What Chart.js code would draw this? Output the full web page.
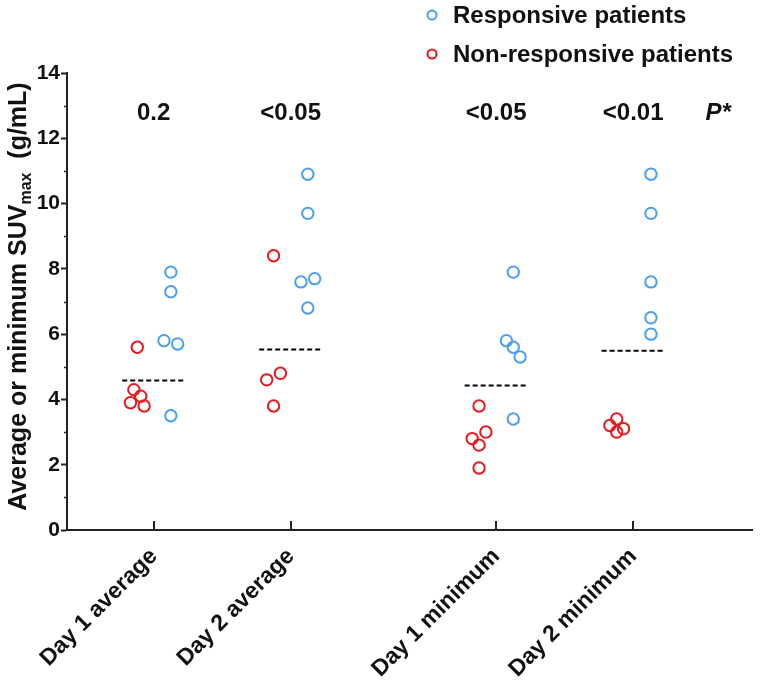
<!DOCTYPE html>
<html>
<head>
<meta charset="utf-8">
<script src="https://cdn.jsdelivr.net/npm/chart.js@4"></script>
<style>
  html, body { margin: 0; padding: 0; background: #fff; }
  #wrap { width: 760px; height: 686px; }
</style>
</head>
<body>
<div id="wrap"><canvas id="chart" width="760" height="686"></canvas></div>
<script>
// ── Data ──────────────────────────────────────────────────────────────────────

const categories = ['Day 1 average', 'Day 2 average', 'Day 1 minimum', 'Day 2 minimum'];
const seriesLabels = ['Responsive patients', 'Non-responsive patients'];

const responsive = [
  [7.9, 7.3, 5.8, 5.7, 3.5],
  [10.9, 9.7, 7.7, 7.6, 6.8],
  [7.9, 5.8, 5.6, 5.3, 3.4],
  [10.9, 9.7, 7.6, 6.5, 6.0],
];
const nonResponsive = [
  [5.6, 4.3, 4.1, 3.9, 3.8],
  [8.4, 4.8, 4.6, 3.8],
  [3.8, 3.0, 2.8, 2.6, 1.9],
  [3.4, 3.2, 3.1, 3.0],
];
const medians = [4.58, 5.53, 4.43, 5.49];
const pLabels = ['0.2', '<0.05', '<0.05', '<0.01'];
const yTicks = [0, 2, 4, 6, 8, 10, 12, 14];

// ── Layout (category slots on the x axis, scatter jitter) ─────────────────────

const CAT_X = [1, 2, 3.5, 4.5];
const responsiveJitter = [
  [0.125, 0.125, 0.075, 0.175, 0.125],
  [0.125, 0.125, 0.175, 0.075, 0.125],
  [0.125, 0.075, 0.125, 0.175, 0.125],
  [0.13, 0.13, 0.13, 0.13, 0.13],
];
const nonJitter = [
  [-0.12, -0.145, -0.095, -0.17, -0.07],
  [-0.125, -0.075, -0.175, -0.125],
  [-0.125, -0.075, -0.175, -0.125, -0.125],
  [-0.12, -0.17, -0.07, -0.12],
];
const MEDIAN_HALF = 0.23;
const P_ROW_Y = 12.75;
const P_HEADER_X = 5.12;

const BLUE = '#4b9ff2';
const RED = '#e8181c';
const INK = '#111';
const FONT = "'Liberation Sans', Arial, sans-serif";

// ── Build datasets ────────────────────────────────────────────────────────────

function toPoints(groups, jitter) {
  const pts = [];
  groups.forEach((vals, i) => {
    vals.forEach((v, j) => pts.push({ x: CAT_X[i] + jitter[i][j], y: v }));
  });
  return pts;
}

const datasets = [
  {
    label: seriesLabels[0],
    data: toPoints(responsive, responsiveJitter),
    borderColor: BLUE,
    backgroundColor: 'rgba(255,255,255,0)',
    pointRadius: 5.7,
    pointBorderWidth: 2,
    pointHoverRadius: 5.7,
  },
  {
    label: seriesLabels[1],
    data: toPoints(nonResponsive, nonJitter),
    borderColor: RED,
    backgroundColor: 'rgba(255,255,255,0)',
    pointRadius: 5.7,
    pointBorderWidth: 2,
    pointHoverRadius: 5.7,
  },
];

medians.forEach((m, i) => {
  datasets.push({
    type: 'line',
    label: 'median',
    data: [{ x: CAT_X[i] - MEDIAN_HALF, y: m }, { x: CAT_X[i] + MEDIAN_HALF, y: m }],
    borderColor: '#000',
    borderWidth: 2,
    borderDash: [5, 3],
    pointRadius: 0,
    fill: false,
  });
});

// ── Extra drawing: inner ticks, minor ticks, title, P row, legend ─────────────

const decorations = {
  id: 'decorations',
  afterDraw(chart) {
    const { ctx, scales: { x, y } } = chart;
    ctx.save();

    // x ticks pointing up into the plot
    ctx.strokeStyle = '#222';
    ctx.lineWidth = 2;
    CAT_X.forEach(v => {
      const px = Math.round(x.getPixelForValue(v));
      ctx.beginPath();
      ctx.moveTo(px, y.bottom);
      ctx.lineTo(px, y.bottom - 9);
      ctx.stroke();
    });

    // minor y ticks at odd values
    ctx.lineWidth = 1.5;
    for (let v = 1; v < 14; v += 2) {
      const py = Math.round(y.getPixelForValue(v)) + 0.5;
      ctx.beginPath();
      ctx.moveTo(x.left - 3, py);
      ctx.lineTo(x.left, py);
      ctx.stroke();
    }

    // y title with subscript
    ctx.fillStyle = INK;
    ctx.textBaseline = 'alphabetic';
    const parts = [
      { t: 'Average or minimum SUV', f: `bold 25px ${FONT}`, dy: 0 },
      { t: 'max', f: `bold 16px ${FONT}`, dy: 5 },
      { t: '  (g/mL)', f: `bold 25px ${FONT}`, dy: 0 },
    ];
    let total = 0;
    parts.forEach(p => { ctx.font = p.f; p.w = ctx.measureText(p.t).width; total += p.w; });
    ctx.translate(26, (y.top + y.bottom) / 2 - 5);
    ctx.rotate(-Math.PI / 2);
    let cx = -total / 2;
    ctx.textAlign = 'left';
    parts.forEach(p => {
      ctx.font = p.f;
      ctx.fillText(p.t, cx, p.dy);
      cx += p.w;
    });
    ctx.setTransform(1, 0, 0, 1, 0, 0);

    // P value row
    ctx.textAlign = 'center';
    ctx.textBaseline = 'middle';
    ctx.font = `bold 24px ${FONT}`;
    const py = y.getPixelForValue(P_ROW_Y);
    pLabels.forEach((t, i) => ctx.fillText(t, x.getPixelForValue(CAT_X[i]), py));
    ctx.font = `italic bold 24px ${FONT}`;
    ctx.fillText('P*', x.getPixelForValue(P_HEADER_X), py);

    // legend
    ctx.textAlign = 'left';
    ctx.font = `bold 24px ${FONT}`;
    [BLUE, RED].forEach((c, i) => {
      const ly = 15 + i * 39;
      ctx.strokeStyle = c;
      ctx.lineWidth = 2;
      ctx.beginPath();
      ctx.arc(432, ly, 4.5, 0, Math.PI * 2);
      ctx.stroke();
      ctx.fillStyle = INK;
      ctx.fillText(seriesLabels[i], 453, ly + 1);
    });

    ctx.restore();
  },
};

// ── Chart ─────────────────────────────────────────────────────────────────────

new Chart(document.getElementById('chart'), {
  type: 'scatter',
  data: { datasets },
  plugins: [decorations],
  options: {
    responsive: false,
    animation: false,
    events: [],
    layout: { padding: { top: 73, right: 5, left: 0, bottom: 0 } },
    plugins: { legend: { display: false }, tooltip: { enabled: false } },
    scales: {
      x: {
        type: 'linear',
        min: 0.367,
        max: 5.37,
        afterBuildTicks: scale => { scale.ticks = CAT_X.map(v => ({ value: v })); },
        afterFit: scale => {
          scale.height = 156;
          scale.paddingLeft = 0;
          scale.paddingRight = 0;
        },
        border: { display: true, color: '#222', width: 2 },
        grid: { display: true, drawOnChartArea: false, drawTicks: false },
        ticks: {
          autoSkip: false,
          minRotation: 45,
          maxRotation: 45,
          padding: 13,
          color: INK,
          font: { family: FONT, size: 23, weight: 'bold' },
          callback: (v, i) => categories[i],
        },
      },
      y: {
        min: 0,
        max: 14,
        afterBuildTicks: scale => { scale.ticks = yTicks.map(v => ({ value: v })); },
        afterFit: scale => {
          scale.width = 67;
          scale.paddingTop = 0;
          scale.paddingBottom = 0;
        },
        border: { display: true, color: '#222', width: 2 },
        grid: { display: true, drawOnChartArea: false, tickLength: 6, tickColor: '#222', tickWidth: 2 },
        ticks: {
          padding: 1,
          color: INK,
          font: { family: FONT, size: 21, weight: 'bold' },
        },
      },
    },
  },
});
</script>
</body>
</html>
